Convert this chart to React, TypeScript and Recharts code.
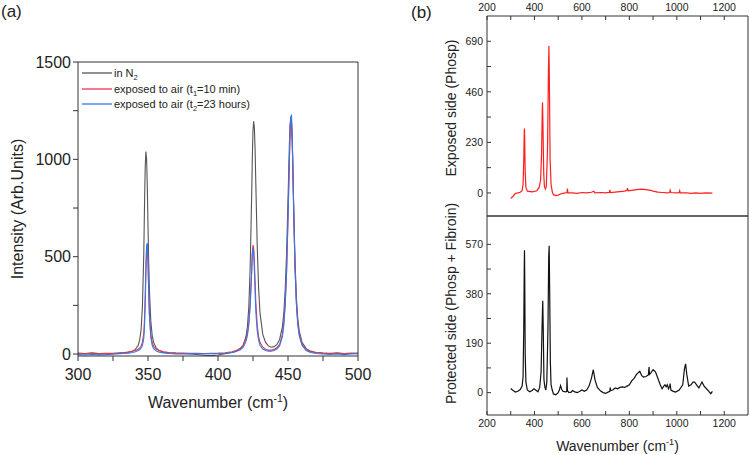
import { LineChart, Line, XAxis, YAxis, Legend, Label } from 'recharts';

const FONT = "'Liberation Sans', Arial, Helvetica, sans-serif";
const AXIS = '#333';
const INK = '#222';

// ---- panel (a): Raman spectra, 300-500 cm-1 ----
const wavenumberA = [
  300, 305, 310, 315, 320, 325, 330, 333, 336, 339,
  341, 343, 344, 345, 346, 347, 347.5, 348, 348.5, 349,
  349.5, 350, 350.5, 351, 352, 353, 354, 356, 358, 361,
  365, 370, 375, 380, 385, 390, 395, 400, 405, 410,
  413, 416, 418, 420, 421, 422, 423, 424, 424.5, 425,
  425.5, 426, 426.5, 427, 428, 429, 430, 432, 434, 436,
  438, 440, 442, 444, 446, 447, 448, 449, 450, 451,
  451.5, 452, 452.5, 453, 453.5, 454, 455, 456, 457, 458,
  460, 463, 466, 470, 475, 480, 485, 490, 495, 500,
];
const inN2 = [
  5, 3, 6, 2, 4, 3, 6, 5, 10, 16,
  24, 45, 70, 120, 240, 520, 760, 960, 1040, 1000,
  860, 660, 470, 330, 170, 95, 60, 30, 18, 10,
  6, 4, 3, 0, -2, -6, -8, -5, 2, 8,
  15, 28, 45, 90, 140, 240, 450, 800, 1000, 1150,
  1195, 1160, 1050, 880, 560, 340, 210, 100, 60, 42,
  35, 38, 48, 75, 140, 210, 330, 520, 790, 1080,
  1180, 1215, 1190, 1100, 950, 780, 480, 290, 180, 120,
  60, 28, 15, 8, 5, 3, 6, 2, 4, 3,
];
const air10min = [
  2, 0, 3, 1, 2, 4, 5, 8, 10, 14,
  18, 25, 30, 40, 60, 110, 180, 300, 450, 545,
  555, 470, 320, 210, 100, 60, 40, 25, 18, 12,
  8, 6, 5, 4, 4, 3, 4, 5, 7, 12,
  18, 30, 45, 80, 110, 160, 260, 420, 520, 560,
  545, 470, 370, 270, 150, 90, 60, 35, 25, 20,
  20, 24, 32, 50, 100, 160, 260, 430, 700, 1000,
  1150, 1215, 1195, 1100, 930, 750, 440, 260, 160, 105,
  50, 22, 12, 8, 5, 4, 3, 2, 4, 5,
];
const air23h = [
  -3, -5, -2, -4, -3, -1, 2, 4, 5, 8,
  12, 18, 22, 30, 45, 80, 140, 250, 420, 560,
  570, 480, 320, 200, 85, 45, 28, 15, 10, 6,
  3, 1, 0, 2, 3, 1, 2, 3, 4, 8,
  13, 22, 35, 65, 95, 150, 250, 410, 510, 545,
  520, 430, 320, 220, 120, 70, 45, 26, 18, 15,
  15, 18, 26, 42, 90, 150, 250, 420, 690, 990,
  1150, 1220, 1225, 1130, 960, 770, 450, 260, 150, 95,
  45, 18, 8, 3, 0, -2, 0, -3, 0, 2,
];
const xTicksA = [300, 325, 350, 375, 400, 425, 450, 475, 500];
const yTicksA = [0, 250, 500, 750, 1000, 1250, 1500];

const legendA = [
  { key: 'n2', color: '#555555', text: 'in N', sub: '2', tail: '' },
  { key: 't1', color: '#ee3344', text: 'exposed to air (t', sub: '1', tail: '=10 min)' },
  { key: 't2', color: '#3377ee', text: 'exposed to air (t', sub: '2', tail: '=23 hours)' },
];

// ---- panel (b): exposed vs protected side ----
const exposedX = [
  300, 310, 320, 330, 340, 348, 352, 355, 357, 358, 359, 361, 364, 370, 390, 410, 420, 426, 430, 433,
  434, 436, 439, 442, 446, 450, 455, 459, 461, 463, 466, 470, 475, 480, 490, 500, 510, 520, 530, 537,
  539, 541, 560, 580, 600, 620, 640, 650, 655, 680, 700, 716, 718, 720, 740, 760, 780, 790, 792, 795,
  810, 830, 850, 870, 890, 900, 920, 940, 960, 970, 972, 975, 1000, 1010, 1012, 1015, 1040, 1060, 1080, 1100,
  1120, 1150,
];
const exposedY = [
  -25, -15, -2, 0, 3, 10, 40, 150, 280, 293, 240, 90, 25, 8, 5, 10, 25, 60, 180, 380,
  411, 300, 90, 30, 18, 30, 200, 560, 669, 500, 150, 40, 5, -8, -12, -10, -5, -2, 0, 2,
  20, 0, 0, -2, 2, 0, 3, 8, 0, 2, 0, 3, 14, 2, 4, 6, 8, 12, 22, 10,
  12, 15, 17, 15, 12, 8, 4, 2, 0, 2, 12, 2, 0, 1, 10, 0, 0, -2, 0, -2,
  0, -1,
];
const protectedX = [
  300, 310, 320, 330, 340, 348, 352, 355, 357, 358, 359, 361, 364, 370, 380, 390, 398, 405, 415, 422,
  428, 432, 435, 437, 440, 444, 448, 452, 457, 460, 462, 464, 467, 470, 475, 480, 490, 500, 505, 510,
  515, 520, 530, 536, 537, 539, 545, 555, 560, 570, 580, 590, 600, 610, 620, 630, 640, 648, 655, 665,
  680, 690, 700, 710, 718, 719, 721, 730, 740, 750, 760, 770, 780, 790, 800, 810, 820, 830, 844, 852,
  860, 870, 880, 883, 885, 890, 900, 910, 920, 930, 938, 945, 950, 955, 960, 965, 970, 972, 975, 985,
  995, 1010, 1025, 1032, 1037, 1042, 1050, 1060, 1068, 1075, 1085, 1093, 1100, 1106, 1115, 1125, 1135, 1143, 1150,
];
const protectedY = [
  16, 8, 2, 5, 12, 25, 60, 250, 480, 547, 450, 150, 40, 10, 3, 8, 15, 10, 3, 20,
  80, 250, 353, 250, 50, 20, 10, 40, 250, 520, 565, 400, 120, 30, 10, -5, -8, 0, 10, 27,
  12, 5, 3, 4, 58, 8, 0, 2, 8, 3, 0, 4, 10, 5, 10, 25, 55, 88, 50, 20,
  5, 0, -3, 2, 5, 20, 8, 10, 18, 15, 20, 22, 20, 25, 30, 45, 55, 70, 82, 65,
  60, 62, 68, 98, 70, 75, 88, 80, 55, 30, 15, 25, 30, 22, 30, 15, 25, 35, 10, 5,
  2, 10, 30, 90, 111, 70, 25, 30, 40, 40, 28, 18, 30, 41, 25, 15, 5, -4, 5,
];
const xTicksB = [200, 300, 400, 500, 600, 700, 800, 900, 1000, 1100, 1200];
const yTicksExposed = [0, 115, 230, 345, 460, 575, 690];
const yTicksProtected = [0, 95, 190, 285, 380, 475, 570];

const spectraA = wavenumberA.map((w, i) => ({ w, n2: inN2[i], t1: air10min[i], t2: air23h[i] }));
const exposedData = exposedX.map((w, i) => ({ w, v: exposedY[i] }));
const protectedData = protectedX.map((w, i) => ({ w, v: protectedY[i] }));

const every = (step: number) => (v: number) => (v % step === 0 ? String(v) : '');

// eslint-disable-next-line @typescript-eslint/no-explicit-any
const WavenumberTitle = (props: any) => {
  const { viewBox, baseOffset, fontPx } = props;
  const cx = viewBox.x + viewBox.width / 2;
  return (
    <text x={cx} y={viewBox.y + baseOffset} textAnchor="middle" fontSize={fontPx} fontFamily={FONT} fill={INK}>
      Wavenumber (cm
      <tspan dy={-fontPx * 0.4} fontSize={fontPx * 0.65}>-1</tspan>
      <tspan dy={fontPx * 0.4}>)</tspan>
    </text>
  );
};

// eslint-disable-next-line @typescript-eslint/no-explicit-any
const VerticalTitle = (props: any) => {
  const { viewBox, shiftX, centerShift, fontPx, titleText } = props;
  const x = viewBox.x + shiftX;
  const y = viewBox.y + viewBox.height / 2 + centerShift;
  return (
    <text x={x} y={y} transform={`rotate(-90, ${x}, ${y})`} textAnchor="middle" fontSize={fontPx} fontFamily={FONT} fill={INK}>
      {titleText}
    </text>
  );
};

const LegendA = () => (
  <div style={{ fontFamily: FONT, fontSize: 11, color: INK }}>
    {legendA.map((e) => (
      <div key={e.key} style={{ display: 'flex', alignItems: 'center', height: 15.7 }}>
        <svg width={30} height={6}>
          <line x1={0} x2={30} y1={3} y2={3} stroke={e.color} strokeWidth={1.3} />
        </svg>
        <span style={{ marginLeft: 2, whiteSpace: 'nowrap' }}>
          {e.text}
          <span style={{ fontSize: 7.5, position: 'relative', top: 3 }}>{e.sub}</span>
          {e.tail}
        </span>
      </div>
    ))}
  </div>
);

const tickA = { fill: INK, fontSize: 16, fontFamily: FONT };
const tickB = { fill: INK, fontSize: 10.5, fontFamily: FONT };

export default function App() {
  return (
    <div style={{ position: 'absolute', left: 0, top: 0, width: 750, height: 455, background: '#fff', fontFamily: FONT }}>
      <svg width={750} height={30} style={{ position: 'absolute', left: 0, top: 0 }}>
        <text x={1} y={17} fontSize={17} fontFamily={FONT} fill={INK}>(a)</text>
        <text x={411} y={18} fontSize={17} fontFamily={FONT} fill={INK}>(b)</text>
      </svg>

      {/* panel (a) */}
      <div style={{ position: 'absolute', left: 0, top: 0 }}>
        <LineChart width={380} height={455} data={spectraA} margin={{ top: 61, right: 21, bottom: 98, left: 77 }}>
          <XAxis xAxisId="top" orientation="top" type="number" dataKey="w" domain={[300, 500]} allowDataOverflow
            ticks={xTicksA} interval={0} tick={false} tickSize={-4} height={1} stroke={AXIS} />
          <YAxis yAxisId="right" orientation="right" type="number" domain={[-10, 1500]} allowDataOverflow
            ticks={yTicksA} interval={0} tick={false} tickSize={-4} width={1} stroke={AXIS} />
          <XAxis type="number" dataKey="w" domain={[300, 500]} allowDataOverflow ticks={xTicksA} interval={0}
            tickFormatter={every(50)} tick={tickA} tickSize={5} tickMargin={8} height={1} stroke={AXIS}>
            <Label content={<WavenumberTitle baseOffset={52} fontPx={16} />} />
          </XAxis>
          <YAxis type="number" domain={[-10, 1500]} allowDataOverflow ticks={yTicksA} interval={0}
            tickFormatter={every(500)} tick={tickA} tickSize={5} tickMargin={2} width={1} stroke={AXIS}>
            <Label content={<VerticalTitle shiftX={-54.5} centerShift={0} fontPx={16} titleText="Intensity (Arb.Units)" />} />
          </YAxis>
          <Legend layout="horizontal" verticalAlign="middle" align="center"
            wrapperStyle={{ top: 65, left: 82, width: 'auto' }} content={() => <LegendA />} />
          <Line type="linear" dataKey="n2" stroke="#555555" strokeWidth={1.1} dot={false} isAnimationActive={false} />
          <Line type="linear" dataKey="t1" stroke="#ee3344" strokeWidth={1.1} dot={false} isAnimationActive={false} />
          <Line type="linear" dataKey="t2" stroke="#3377ee" strokeWidth={1.1} dot={false} isAnimationActive={false} />
        </LineChart>
      </div>

      {/* panel (b), top: exposed side */}
      <div style={{ position: 'absolute', left: 380, top: 0 }}>
        <LineChart width={370} height={455} data={exposedData} margin={{ top: 15, right: 1, bottom: 238, left: 106 }}>
          <XAxis xAxisId="top" orientation="top" type="number" dataKey="w" domain={[200, 1300]} allowDataOverflow
            ticks={xTicksB} interval={0} tickFormatter={every(200)} tick={tickB} tickSize={-4} tickMargin={9.5}
            height={1} stroke={AXIS} />
          <YAxis yAxisId="right" orientation="right" type="number" domain={[-105, 805]} allowDataOverflow
            ticks={yTicksExposed} interval={0} tick={false} tickSize={-4} width={1} stroke={AXIS} />
          <XAxis type="number" dataKey="w" domain={[200, 1300]} allowDataOverflow ticks={xTicksB} interval={0}
            tick={false} tickSize={-4} height={1} stroke={AXIS} />
          <YAxis type="number" domain={[-105, 805]} allowDataOverflow ticks={yTicksExposed} interval={0}
            tickFormatter={every(230)} tick={tickB} tickSize={-4} tickMargin={8} width={1} stroke={AXIS}>
            <Label content={<VerticalTitle shiftX={-30} centerShift={-8} fontPx={14} titleText="Exposed side (Phosp)" />} />
          </YAxis>
          <Line type="linear" dataKey="v" stroke="#ff1f1f" strokeWidth={1.2} dot={false} isAnimationActive={false} />
        </LineChart>
      </div>

      {/* panel (b), bottom: protected side */}
      <div style={{ position: 'absolute', left: 380, top: 0 }}>
        <LineChart width={370} height={455} data={protectedData} margin={{ top: 215, right: 1, bottom: 39, left: 106 }}>
          <XAxis xAxisId="top" orientation="top" type="number" dataKey="w" domain={[200, 1300]} allowDataOverflow
            ticks={xTicksB} interval={0} tick={false} tickSize={-4} height={1} stroke={AXIS} />
          <YAxis yAxisId="right" orientation="right" type="number" domain={[-86, 679]} allowDataOverflow
            ticks={yTicksProtected} interval={0} tick={false} tickSize={-4} width={1} stroke={AXIS} />
          <XAxis type="number" dataKey="w" domain={[200, 1300]} allowDataOverflow ticks={xTicksB} interval={0}
            tickFormatter={every(200)} tick={tickB} tickSize={-4} tickMargin={9} height={1} stroke={AXIS}>
            <Label content={<WavenumberTitle baseOffset={36} fontPx={14} />} />
          </XAxis>
          <YAxis type="number" domain={[-86, 679]} allowDataOverflow ticks={yTicksProtected} interval={0}
            tickFormatter={every(190)} tick={tickB} tickSize={-4} tickMargin={8} width={1} stroke={AXIS}>
            <Label content={<VerticalTitle shiftX={-30} centerShift={-12} fontPx={14} titleText="Protected side (Phosp + Fibroin)" />} />
          </YAxis>
          <Line type="linear" dataKey="v" stroke="#111111" strokeWidth={1.2} dot={false} isAnimationActive={false} />
        </LineChart>
      </div>
    </div>
  );
}
